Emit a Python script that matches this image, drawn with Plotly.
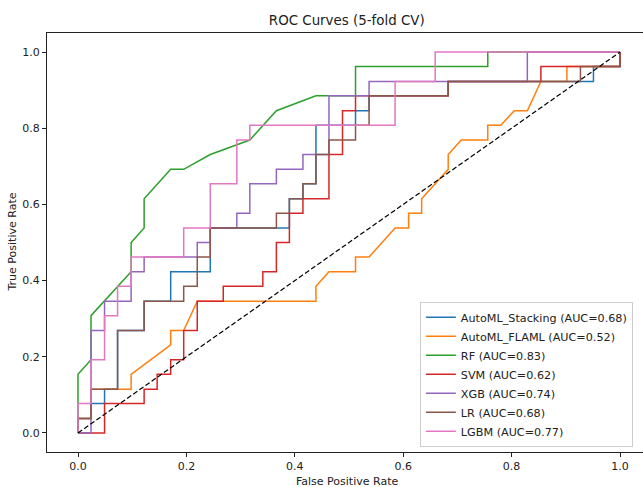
import plotly.graph_objects as go

# ---- data ----
models = ["AutoML_Stacking", "AutoML_FLAML", "RF", "SVM", "XGB", "LR", "LGBM"]
auc_values = [0.68, 0.52, 0.83, 0.62, 0.74, 0.68, 0.77]

stacking_fpr = [0, 0, 0.024, 0.024, 0.049, 0.049, 0.073, 0.073, 0.122, 0.122, 0.171, 0.171, 0.244, 0.244, 0.390,
                0.390, 0.415, 0.415, 0.439, 0.439, 0.512, 0.512, 0.537, 0.537, 0.683, 0.683, 0.951, 0.951, 1.0, 1.0]
stacking_tpr = [0, 0.038, 0.038, 0.077, 0.077, 0.115, 0.115, 0.269, 0.269, 0.346, 0.346, 0.423, 0.423, 0.538, 0.538,
                0.615, 0.615, 0.654, 0.654, 0.808, 0.808, 0.846, 0.846, 0.885, 0.885, 0.923, 0.923, 0.962, 0.962, 1.0]

flaml_fpr = [0, 0, 0.024, 0.024, 0.098, 0.098, 0.171, 0.171, 0.195, 0.220, 0.439, 0.439, 0.463, 0.512, 0.512, 0.537,
             0.585, 0.610, 0.610, 0.634, 0.634, 0.683, 0.683, 0.707, 0.756, 0.756, 0.780, 0.805, 0.829, 0.854, 0.902,
             0.902, 1.0, 1.0]
flaml_tpr = [0, 0.038, 0.038, 0.115, 0.115, 0.154, 0.231, 0.269, 0.269, 0.346, 0.346, 0.385, 0.423, 0.423, 0.462,
             0.462, 0.538, 0.538, 0.577, 0.577, 0.615, 0.692, 0.731, 0.769, 0.769, 0.808, 0.808, 0.846, 0.846, 0.923,
             0.923, 0.962, 0.962, 1.0]

rf_fpr = [0, 0, 0.024, 0.024, 0.098, 0.098, 0.122, 0.122, 0.171, 0.195, 0.244, 0.317, 0.366, 0.439, 0.512, 0.512,
          0.756, 0.756, 1.0]
rf_tpr = [0, 0.154, 0.192, 0.308, 0.423, 0.5, 0.538, 0.615, 0.692, 0.692, 0.731, 0.769, 0.846, 0.885, 0.885, 0.962,
          0.962, 1.0, 1.0]

svm_fpr = [0, 0.049, 0.049, 0.122, 0.122, 0.146, 0.146, 0.171, 0.171, 0.195, 0.195, 0.220, 0.220, 0.268, 0.268,
           0.341, 0.341, 0.366, 0.366, 0.390, 0.390, 0.415, 0.415, 0.463, 0.463, 0.488, 0.488, 0.512, 0.512, 0.683,
           0.683, 0.854, 0.854, 1.0, 1.0]
svm_tpr = [0, 0, 0.077, 0.077, 0.115, 0.115, 0.154, 0.154, 0.192, 0.192, 0.269, 0.269, 0.346, 0.346, 0.385, 0.385,
           0.423, 0.423, 0.5, 0.5, 0.577, 0.577, 0.615, 0.615, 0.731, 0.731, 0.846, 0.846, 0.885, 0.885, 0.923,
           0.923, 0.962, 0.962, 1.0]

xgb_fpr = [0, 0.024, 0.024, 0.049, 0.049, 0.098, 0.098, 0.122, 0.122, 0.220, 0.220, 0.244, 0.244, 0.293, 0.293,
           0.317, 0.317, 0.366, 0.366, 0.415, 0.415, 0.463, 0.463, 0.537, 0.537, 0.829, 0.829, 1.0]
xgb_tpr = [0, 0, 0.269, 0.269, 0.346, 0.346, 0.423, 0.423, 0.462, 0.462, 0.5, 0.5, 0.538, 0.538, 0.577, 0.577,
           0.654, 0.654, 0.692, 0.692, 0.731, 0.731, 0.885, 0.885, 0.923, 0.923, 1.0, 1.0]

lr_fpr = [0, 0, 0.024, 0.024, 0.073, 0.073, 0.122, 0.122, 0.195, 0.195, 0.220, 0.220, 0.244, 0.244, 0.366, 0.366,
          0.390, 0.390, 0.415, 0.415, 0.439, 0.439, 0.463, 0.463, 0.512, 0.512, 0.537, 0.537, 0.683, 0.683, 0.927,
          0.927, 1.0, 1.0]
lr_tpr = [0, 0.038, 0.038, 0.115, 0.115, 0.269, 0.269, 0.346, 0.346, 0.385, 0.385, 0.462, 0.462, 0.538, 0.538,
          0.577, 0.577, 0.615, 0.615, 0.654, 0.654, 0.731, 0.731, 0.769, 0.769, 0.808, 0.808, 0.885, 0.885, 0.923,
          0.923, 0.962, 0.962, 1.0]

lgbm_fpr = [0, 0, 0.024, 0.024, 0.049, 0.049, 0.073, 0.073, 0.098, 0.098, 0.195, 0.195, 0.244, 0.244, 0.293, 0.293,
            0.317, 0.317, 0.585, 0.585, 0.659, 0.659, 1.0]
lgbm_tpr = [0, 0.077, 0.077, 0.192, 0.192, 0.308, 0.308, 0.385, 0.385, 0.462, 0.462, 0.538, 0.538, 0.654, 0.654,
            0.769, 0.769, 0.808, 0.808, 0.923, 0.923, 1.0, 1.0]

chance_line = [0, 1]
tick_values = [0, 0.2, 0.4, 0.6, 0.8, 1.0]
tick_labels = ["0.0", "0.2", "0.4", "0.6", "0.8", "1.0"]

curves = [(stacking_fpr, stacking_tpr), (flaml_fpr, flaml_tpr), (rf_fpr, rf_tpr), (svm_fpr, svm_tpr),
          (xgb_fpr, xgb_tpr), (lr_fpr, lr_tpr), (lgbm_fpr, lgbm_tpr)]
colors = ["#1f77b4", "#ff7f0e", "#2ca02c", "#d62728", "#9467bd", "#8c564b", "#e377c2"]

FONT = "DejaVu Sans, Verdana, sans-serif"
TXT = "#222222"

fig = go.Figure()
for name, auc, (fx, ty), col in zip(models, auc_values, curves, colors):
    fig.add_trace(go.Scatter(x=fx, y=ty, mode="lines", name=f"{name} (AUC={auc:.2f})",
                             line=dict(color=col, width=1.5)))
fig.add_trace(go.Scatter(x=chance_line, y=chance_line, mode="lines", showlegend=False,
                         line=dict(color="black", width=1.2, dash="5px,2.5px")))

axis_common = dict(tickvals=tick_values, ticktext=tick_labels, ticks="outside", ticklen=4,
                   tickcolor=TXT, showgrid=False, zeroline=False, showline=True,
                   linecolor=TXT, linewidth=1, automargin=False,
                   tickfont=dict(family=FONT, size=11, color=TXT))

fig.update_layout(
    width=643, height=487,
    margin=dict(l=47, r=0, t=33, b=35),
    paper_bgcolor="white", plot_bgcolor="white",
    font=dict(family=FONT, size=11, color=TXT),
    title=dict(text="ROC Curves (5-fold CV)", x=0.503, xanchor="center", xref="paper",
               y=1 - 20 / 487, yanchor="middle", yref="container",
               font=dict(family=FONT, size=13.4, color=TXT)),
    xaxis=dict(range=[-0.0572, 1.0424], mirror=True, **axis_common),
    yaxis=dict(range=[-0.05, 1.05], mirror=False, **axis_common),
    legend=dict(x=0.983, y=0.0127, xanchor="right", yanchor="bottom",
                bgcolor="rgba(255,255,255,0.85)", bordercolor="#cccccc", borderwidth=1,
                font=dict(family=FONT, size=11.2, color=TXT), itemwidth=30,
                tracegroupgap=0),
    showlegend=True,
    annotations=[
        dict(text="False Positive Rate", xref="paper", yref="paper", x=0.503, y=-(481 - 452) / 419,
             xanchor="center", yanchor="middle", showarrow=False,
             font=dict(family=FONT, size=11, color=TXT)),
        dict(text="True Positive Rate", xref="paper", yref="paper", x=-(47 - 12) / 596, y=0.5,
             xanchor="center", yanchor="middle", textangle=-90, showarrow=False,
             font=dict(family=FONT, size=11, color=TXT)),
    ],
)

fig.write_html("out.html", config={"displayModeBar": False},
               post_script="document.body.style.margin='0';document.body.style.overflow='hidden';")
